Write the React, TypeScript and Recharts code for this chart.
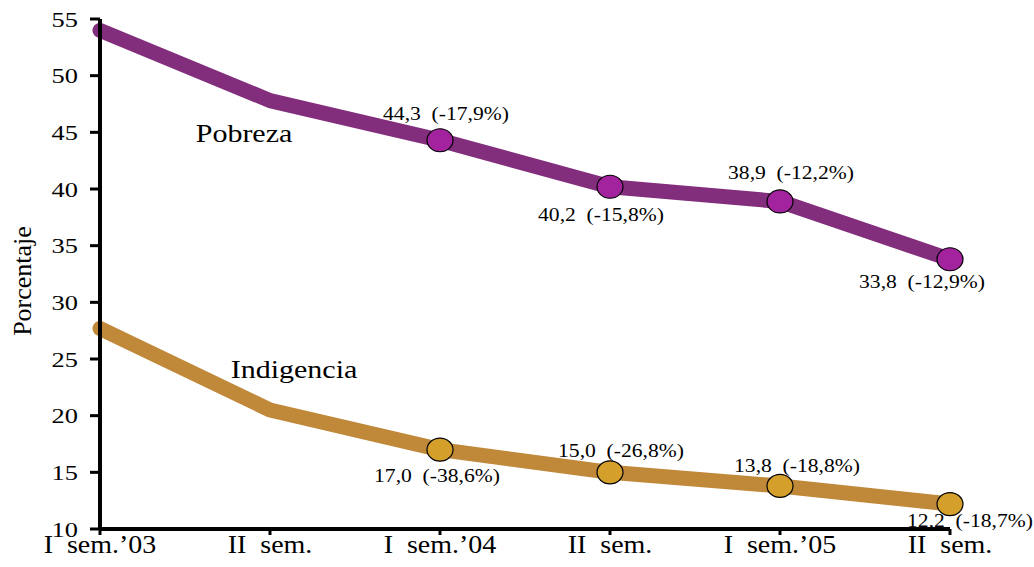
import { LineChart, Line, XAxis, YAxis } from "recharts";

const periods = ["I  sem.’03", "II  sem.", "I  sem.’04", "II  sem.", "I  sem.’05", "II  sem."];
const pobreza = [54.0, 47.8, 44.3, 40.2, 38.9, 33.8];
const indigencia = [27.7, 20.5, 17.0, 15.0, 13.8, 12.2];
const pobrezaVar = [null, null, "-17,9%", "-15,8%", "-12,2%", "-12,9%"];
const indigenciaVar = [null, null, "-38,6%", "-26,8%", "-18,8%", "-18,7%"];
const yTicks = [10, 15, 20, 25, 30, 35, 40, 45, 50, 55];

// label placement relative to each point (center x, baseline y)
const pobrezaOffsets = [[0, 0], [-26, 41], [6, -20], [-9, 34], [11, -22], [-28, 29]];
const indigenciaOffsets = [[0, 0], [24, -32], [-3, 32], [11, -15], [17, -14], [20, 23]];

const data = periods.map((p, i) => ({
  id: i,
  pobreza: pobreza[i],
  indigencia: indigencia[i],
}));

const FONT = "Times New Roman";
const SX = 1.2;
const fmt = (v: number) => v.toFixed(1).replace(".", ",");

const makeLabel =
  (name: string, vars: (string | null)[], offsets: number[][]) => (props: any) => {
    const { x, y, index, value } = props;
    const [dx, dy] = offsets[index];
    if (index === 1) {
      return (
        <g key={`n${index}`} transform={`translate(${x + dx},${y + dy})`}>
          <text transform={`scale(${SX},1)`} textAnchor="middle" fontSize={25} fontFamily={FONT} fill="#000">
            {name}
          </text>
        </g>
      );
    }
    const v = vars[index];
    if (!v) return <g key={`l${index}`} />;
    return (
      <g key={`l${index}`} transform={`translate(${x + dx},${y + dy})`}>
        <text transform={`scale(${SX},1)`} textAnchor="middle" fontSize={18} fontFamily={FONT} fill="#000">
          {`${fmt(value)}\u00A0\u00A0(${v})`}
        </text>
      </g>
    );
  };

const makeDot = (vars: (string | null)[], fill: string) => (props: any) => {
  const { cx, cy, index } = props;
  if (!vars[index]) return <g key={`d${index}`} />;
  return <ellipse key={`d${index}`} cx={cx} cy={cy} rx={13} ry={11.5} fill={fill} stroke="#000" strokeWidth={1.2} />;
};

const YTick = (props: any) => {
  const { x, y, payload } = props;
  return (
    <g transform={`translate(${x},${y})`}>
      <text transform={`scale(${SX},1)`} textAnchor="end" dy="0.35em" fontSize={22} fontFamily={FONT} fill="#000">
        {payload.value}
      </text>
    </g>
  );
};

const XTick = (props: any) => {
  const { x, y, payload } = props;
  return (
    <g transform={`translate(${x},${y})`}>
      <text transform={`scale(1.12,1)`} textAnchor="middle" dy={16} fontSize={25} fontFamily={FONT} fill="#000" style={{ whiteSpace: "pre" }}>
        {periods[payload.value]}
      </text>
    </g>
  );
};

export default function App() {
  return (
    <div style={{ position: "absolute", left: 0, top: 0, width: 1034, height: 567, background: "#fff" }}>
      <LineChart width={1034} height={567} data={data} margin={{ top: 19, right: 84, bottom: 0, left: 0 }}>
        <XAxis
          xAxisId="bottom"
          dataKey="id"
          type="category"
          height={38}
          axisLine={{ stroke: "#000", strokeWidth: 4 }}
          tickLine={{ stroke: "#000", strokeWidth: 3 }}
          tickSize={6}
          tick={<XTick />}
          interval={0}
        />
        <XAxis xAxisId="top" orientation="top" height={0} tick={false} tickLine={false} axisLine={{ stroke: "#000", strokeWidth: 4 }} />
        <YAxis
          yAxisId="left"
          width={100}
          domain={[10, 55]}
          ticks={yTicks}
          interval={0}
          axisLine={{ stroke: "#000", strokeWidth: 4 }}
          tickLine={{ stroke: "#000", strokeWidth: 3 }}
          tickSize={10}
          tickMargin={12}
          tick={<YTick />}
          label={{
            content: (p: any) => {
              const vb = p.viewBox;
              const cx = 22;
              const cy = vb.y + vb.height / 2 + 7;
              return (
                <g transform={`translate(${cx},${cy}) rotate(-90)`}>
                  <text textAnchor="middle" dominantBaseline="central" fontSize={26} fontFamily={FONT} fill="#000">
                    Porcentaje
                  </text>
                </g>
              );
            },
          }}
        />
        <YAxis yAxisId="right" orientation="right" width={0} domain={[0, 1]} tick={false} tickLine={false} axisLine={{ stroke: "#000", strokeWidth: 5 }} />
        <Line
          xAxisId="bottom"
          yAxisId="left"
          dataKey="pobreza"
          type="linear"
          stroke="#832D7D"
          strokeWidth={15}
          strokeLinecap="round"
          strokeLinejoin="round"
          dot={makeDot(pobrezaVar, "#A3229E")}
          activeDot={false}
          label={makeLabel("Pobreza", pobrezaVar, pobrezaOffsets)}
          isAnimationActive={false}
        />
        <Line
          xAxisId="bottom"
          yAxisId="left"
          dataKey="indigencia"
          type="linear"
          stroke="#C0893A"
          strokeWidth={15}
          strokeLinecap="round"
          strokeLinejoin="round"
          dot={makeDot(indigenciaVar, "#D49F2B")}
          activeDot={false}
          label={makeLabel("Indigencia", indigenciaVar, indigenciaOffsets)}
          isAnimationActive={false}
        />
      </LineChart>
    </div>
  );
}
